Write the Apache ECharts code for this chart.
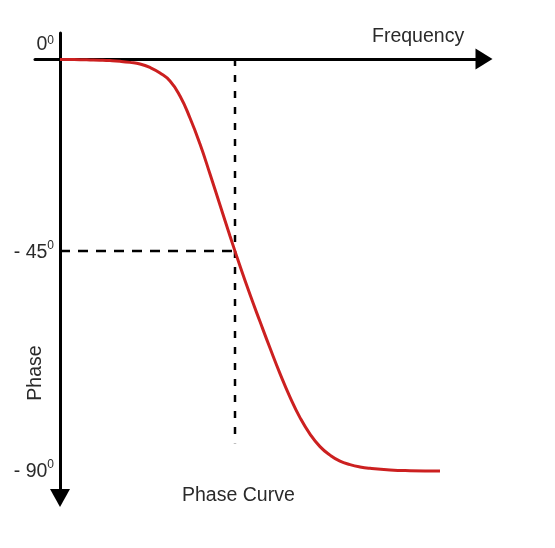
<!DOCTYPE html>
<html>
<head>
<meta charset="utf-8">
<script src="https://cdn.jsdelivr.net/npm/echarts@6/dist/echarts.min.js"></script>
<style>html,body{margin:0;padding:0;background:#fff}#c{width:555px;height:548px}</style>
</head>
<body>
<div id="c"></div>
<script>
// Frequency (arbitrary units, origin at the phase axis)
const frequency = [0, 10, 20, 30, 40, 50, 60, 70, 80, 90, 100, 110, 120, 130, 140, 150, 160, 170, 180, 190, 200, 210, 220, 230, 240, 250, 260, 270, 280, 290, 300, 310, 330, 350, 380];
// Phase in degrees
const phase = [-0.11, -0.13, -0.15, -0.2, -0.26, -0.35, -0.5, -0.74, -1.09, -1.86, -3.07, -4.82, -8.1, -12.92, -18.61, -25.18, -31.97, -38.76, -45.33, -51.57, -57.48, -63.28, -68.87, -74.01, -78.5, -82.11, -84.85, -86.71, -88.03, -88.79, -89.3, -89.6, -89.95, -90.11, -90.21];
// corner frequency and its phase marker
const cornerFreq = 175;
const cornerPhase = -42.04;
const verticalGuideEnd = -84.1;
// tick labels
const tickValues = [0, -42.04, -90];
const tickLabels = ['0', '- 45', '- 90'];
const tickSup = '0';

const FONT = 'Liberation Sans, Arial, sans-serif';
const curve = frequency.map((f, i) => [f, phase[i]]);

const chart = echarts.init(document.getElementById('c'));
chart.setOption({
  animation: false,
  backgroundColor: '#fff',
  title: [
    { text: 'Frequency', left: 372, top: 27, padding: 0,
      textStyle: { fontFamily: FONT, fontSize: 19.5, fontWeight: 'normal', color: '#2a2a2a' } },
    { text: 'Phase Curve', left: 182, top: 486, padding: 0,
      textStyle: { fontFamily: FONT, fontSize: 19.5, fontWeight: 'normal', color: '#2a2a2a' } }
  ],
  graphic: [
    { type: 'text', x: 36, y: 373, rotation: Math.PI / 2,
      style: { text: 'Phase', fontFamily: FONT, fontSize: 19.5, fill: '#2a2a2a', align: 'center', verticalAlign: 'middle' } }
  ],
  grid: { left: 35, right: 71, top: 33, bottom: 50, containLabel: false, outerBoundsMode: 'none' },
  xAxis: {
    type: 'value', min: -25, max: 424,
    axisLine: { onZero: true, symbol: ['none', 'triangle'], symbolSize: [21, 17],
      lineStyle: { color: '#000', width: 3 } },
    axisTick: { show: false }, axisLabel: { show: false }, splitLine: { show: false }
  },
  yAxis: {
    type: 'value', min: -96.1, max: 5.69,
    axisLine: { onZero: true, symbol: ['triangle', 'none'], symbolSize: [20, 18],
      lineStyle: { color: '#000', width: 3 } },
    axisTick: { show: false }, splitLine: { show: false },
    axisLabel: {
      show: true, margin: -19, customValues: tickValues,
      formatter: function (v) {
        const i = tickValues.findIndex(t => Math.abs(t - v) < 0.01);
        if (i < 0) return '';
        if (i === 0) return '{z|' + tickLabels[i] + '}{zs|' + tickSup + '}';
        return '{n|' + tickLabels[i] + '}{s|' + tickSup + '}';
      },
      rich: {
        n: { fontFamily: FONT, fontSize: 19.5, lineHeight: 20, color: '#2a2a2a', padding: [3, 0, 0, 0] },
        s: { fontFamily: FONT, fontSize: 12, lineHeight: 12, color: '#2a2a2a', padding: [0, 0, 11, 0] },
        z: { fontFamily: FONT, fontSize: 19.5, lineHeight: 20, color: '#2a2a2a', padding: [0, 0, 28, 0] },
        zs: { fontFamily: FONT, fontSize: 12, lineHeight: 12, color: '#2a2a2a', padding: [0, 0, 36, 0] }
      }
    }
  },
  series: [
    { type: 'line', data: [[cornerFreq, 0], [cornerFreq, verticalGuideEnd]], symbol: 'none', silent: true,
      lineStyle: { color: '#000', width: 2.5, type: [7, 9] }, z: 2 },
    { type: 'line', data: [[0, cornerPhase], [cornerFreq, cornerPhase]], symbol: 'none', silent: true,
      lineStyle: { color: '#000', width: 2.5, type: [10, 8] }, z: 2 },
    { type: 'line', data: curve, symbol: 'none', smooth: 0.5, silent: true,
      lineStyle: { color: '#cc2020', width: 3 }, z: 3 }
  ]
});
</script>
</body>
</html>
